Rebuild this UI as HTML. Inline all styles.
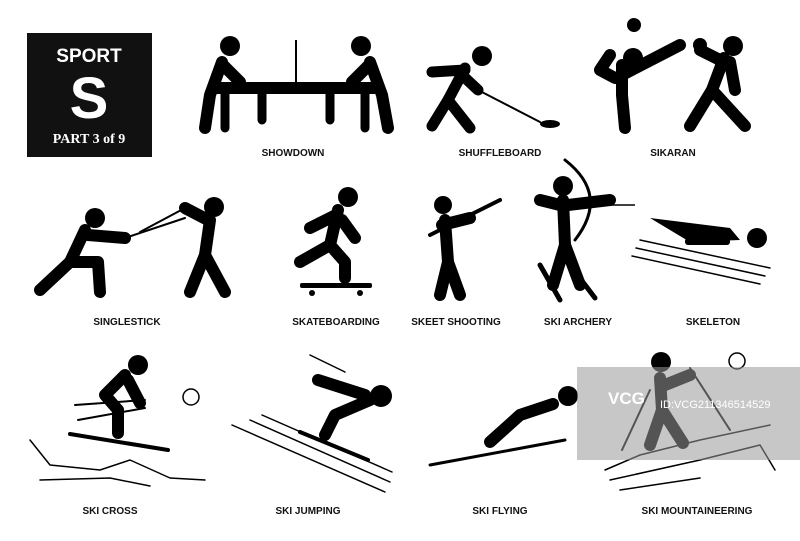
<!DOCTYPE html>
<html><head><meta charset="utf-8"><style>
html,body{margin:0;padding:0;background:#fff;}
svg{display:block}
.l{font-family:"Liberation Sans",sans-serif;font-size:10px;font-weight:bold;fill:#111;text-anchor:middle}
.b{stroke:#000;stroke-linecap:round;stroke-linejoin:round;fill:none}
</style></head><body>
<svg width="800" height="541" viewBox="0 0 800 541" xmlns="http://www.w3.org/2000/svg">
<rect width="800" height="541" fill="#fff"/>
<!-- title box -->
<rect x="27" y="33" width="125" height="124" fill="#111"/>
<text x="89" y="62" font-family="Liberation Sans,sans-serif" font-weight="bold" font-size="19" fill="#fff" text-anchor="middle">SPORT</text>
<text x="89" y="118" font-family="Liberation Sans,sans-serif" font-weight="bold" font-size="58" fill="#fff" text-anchor="middle">S</text>
<text x="89" y="143" font-family="Liberation Serif,serif" font-weight="bold" font-size="14" fill="#fff" text-anchor="middle">PART 3 of 9</text>

<!-- showdown -->
<rect x="215" y="82" width="160" height="12" fill="#000"/>
<line x1="296" y1="40" x2="296" y2="82" stroke="#000" stroke-width="2"/>
<g class="b" stroke-width="9"><line x1="225" y1="94" x2="225" y2="128"/><line x1="365" y1="94" x2="365" y2="128"/><line x1="262" y1="94" x2="262" y2="120"/><line x1="330" y1="94" x2="330" y2="120"/></g>
<circle cx="230" cy="46" r="10" fill="#000"/><circle cx="361" cy="46" r="10" fill="#000"/>
<g class="b" stroke-width="12"><path d="M222 62 L210 95 L205 128"/><path d="M370 62 L382 95 L388 128"/><path d="M222 64 L240 82"/><path d="M370 64 L352 82"/></g>
<!-- shuffleboard -->
<circle cx="482" cy="56" r="10" fill="#000"/>
<g class="b" stroke-width="11"><path d="M465 68 L448 100 L432 126"/><path d="M448 100 L470 128"/><path d="M465 70 L432 72"/><path d="M462 75 L478 90"/></g>
<line class="b" x1="478" y1="90" x2="540" y2="122" stroke-width="2"/>
<ellipse cx="550" cy="124" rx="10" ry="4" fill="#000"/>
<!-- sikaran -->
<circle cx="633" cy="58" r="10" fill="#000"/><circle cx="733" cy="46" r="10" fill="#000"/>
<g class="b" stroke-width="12"><path d="M622 65 L622 95 L625 128"/><path d="M622 75 L680 45"/><path d="M610 55 L600 70 L615 78"/><path d="M724 58 L712 90 L690 126"/><path d="M712 90 L745 126"/><path d="M724 62 L700 50"/><path d="M730 62 L735 90"/></g>
<circle cx="634" cy="25" r="7" fill="#000"/><circle cx="700" cy="45" r="7" fill="#000"/>
<!-- singlestick -->
<circle cx="95" cy="218" r="10" fill="#000"/><circle cx="214" cy="207" r="10" fill="#000"/>
<g class="b" stroke-width="12"><path d="M85 230 L70 262 L40 290"/><path d="M70 262 L98 262 L100 292"/><path d="M88 235 L125 238"/><path d="M210 220 L205 255 L190 292"/><path d="M205 255 L225 292"/><path d="M208 220 L185 208"/></g>
<line class="b" x1="125" y1="238" x2="185" y2="218" stroke-width="2"/><line class="b" x1="140" y1="232" x2="185" y2="208" stroke-width="2"/>
<!-- skateboarding -->
<circle cx="348" cy="197" r="10" fill="#000"/>
<g class="b" stroke-width="12"><path d="M338 210 L330 245 L300 262"/><path d="M330 245 L345 262 L345 278"/><path d="M336 215 L310 228"/><path d="M342 220 L355 238"/></g>
<rect x="300" y="283" width="72" height="5" rx="2" fill="#000"/><circle cx="312" cy="293" r="3" fill="#000"/><circle cx="360" cy="293" r="3" fill="#000"/>
<!-- skeet -->
<circle cx="443" cy="205" r="9" fill="#000"/>
<g class="b" stroke-width="12"><path d="M445 220 L448 262 L440 295"/><path d="M448 262 L460 295"/><path d="M442 225 L470 218"/></g>
<line class="b" x1="430" y1="235" x2="500" y2="200" stroke-width="4"/>
<!-- ski archery -->
<circle cx="563" cy="186" r="10" fill="#000"/>
<g class="b" stroke-width="12"><path d="M563 200 L565 245 L553 285"/><path d="M565 245 L580 285"/><path d="M560 205 L540 200"/><path d="M568 205 L610 200"/></g>
<path d="M565 160 Q610 195 575 240" class="b" stroke-width="3"/><line x1="550" y1="205" x2="635" y2="205" stroke="#000" stroke-width="1.5"/>
<g class="b" stroke-width="5"><line x1="540" y1="265" x2="560" y2="300"/><line x1="570" y1="265" x2="595" y2="298"/></g>
<!-- skeleton -->
<path d="M650 218 L730 228 L740 240 L690 242 Z" fill="#000"/><circle cx="757" cy="238" r="10" fill="#000"/>
<rect x="685" y="238" width="45" height="7" rx="3" fill="#000"/>
<g class="b" stroke-width="1.5"><line x1="640" y1="240" x2="770" y2="268"/><line x1="636" y1="248" x2="765" y2="276"/><line x1="632" y1="256" x2="760" y2="284"/></g>
<!-- ski cross -->
<circle cx="138" cy="365" r="10" fill="#000"/><circle cx="191" cy="397" r="8" fill="none" stroke="#000" stroke-width="1.5"/>
<g class="b" stroke-width="12"><path d="M125 375 L105 395 L118 410"/><path d="M118 410 L118 433"/><path d="M128 380 L140 403"/></g>
<line class="b" x1="75" y1="405" x2="145" y2="400" stroke-width="2"/><line class="b" x1="78" y1="420" x2="145" y2="408" stroke-width="2"/>
<line class="b" x1="70" y1="434" x2="168" y2="450" stroke-width="4"/>
<path class="b" stroke-width="1.5" d="M30 440 L50 465 L100 470 L130 460 L170 478 L205 480 M40 480 L110 478 L150 486"/>
<!-- ski jumping -->
<circle cx="381" cy="396" r="11" fill="#000"/>
<g class="b" stroke-width="12"><path d="M318 380 L365 395"/><path d="M370 400 L335 415 L325 435"/></g>
<g class="b" stroke-width="1.5"><line x1="232" y1="425" x2="385" y2="492"/><line x1="250" y1="420" x2="390" y2="482"/><line x1="262" y1="415" x2="392" y2="472"/><line x1="310" y1="355" x2="345" y2="372"/></g>
<line class="b" x1="300" y1="432" x2="368" y2="460" stroke-width="4"/>
<!-- ski flying -->
<circle cx="568" cy="396" r="10" fill="#000"/>
<g class="b" stroke-width="12"><path d="M553 404 L520 415 L490 442"/></g>
<line class="b" x1="430" y1="465" x2="565" y2="440" stroke-width="3"/>
<!-- ski mountaineering -->
<circle cx="661" cy="362" r="10" fill="#000"/><circle cx="737" cy="361" r="8" fill="none" stroke="#000" stroke-width="1.5"/>
<g class="b" stroke-width="12"><path d="M660 378 L662 410 L650 445"/><path d="M662 410 L683 443"/><path d="M665 385 L690 375"/></g>
<line class="b" x1="690" y1="368" x2="730" y2="430" stroke-width="2"/><line class="b" x1="650" y1="390" x2="622" y2="450" stroke-width="2"/>
<path class="b" stroke-width="1.5" d="M605 470 L640 455 L700 440 L770 425 M610 480 L700 460 L760 445 L775 470 M620 490 L700 478"/>
<!-- watermark -->
<rect x="577" y="367" width="223" height="93" fill="#999" opacity="0.55"/>
<text x="608" y="404" font-family="Liberation Sans,sans-serif" font-weight="bold" font-size="17" fill="#fff">VCG</text>
<text x="660" y="408" font-family="Liberation Sans,sans-serif" font-size="11" fill="#fff">ID:VCG211346514529</text>
<!-- labels -->
<text class="l" x="293" y="156">SHOWDOWN</text>
<text class="l" x="500" y="156">SHUFFLEBOARD</text>
<text class="l" x="673" y="156">SIKARAN</text>
<text class="l" x="127" y="325">SINGLESTICK</text>
<text class="l" x="336" y="325">SKATEBOARDING</text>
<text class="l" x="456" y="325">SKEET SHOOTING</text>
<text class="l" x="578" y="325">SKI ARCHERY</text>
<text class="l" x="713" y="325">SKELETON</text>
<text class="l" x="110" y="514">SKI CROSS</text>
<text class="l" x="308" y="514">SKI JUMPING</text>
<text class="l" x="500" y="514">SKI FLYING</text>
<text class="l" x="697" y="514">SKI MOUNTAINEERING</text>
</svg>
</body></html>
